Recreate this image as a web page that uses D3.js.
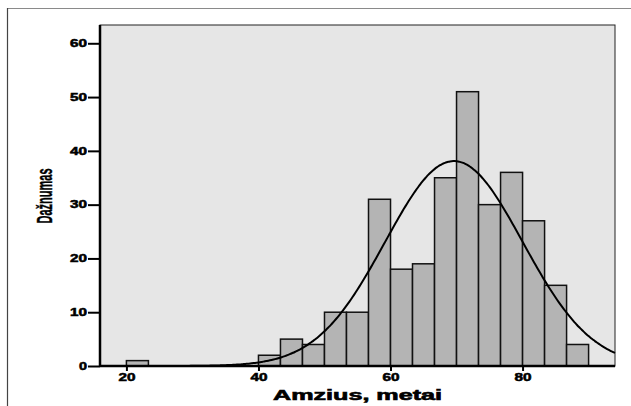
<!DOCTYPE html>
<html>
<head>
<meta charset="utf-8">
<script src="https://cdn.jsdelivr.net/npm/d3@7"></script>
<style>
  body { margin: 0; background: #fff; }
  svg { display: block; }
</style>
</head>
<body>
<div id="chart"></div>
<script>
// histogram bins (age, years) and counts
const binStarts = [20, 40, 43.333, 46.667, 50, 53.333, 56.667, 60, 63.333, 66.667, 70, 73.333, 76.667, 80, 83.333, 86.667];
const binWidth = 3.333;
const counts = [1, 2, 5, 4, 10, 10, 31, 18, 19, 35, 51, 30, 36, 27, 15, 4];
const xTicks = [20, 40, 60, 80];
const yTicks = [0, 10, 20, 30, 40, 50, 60];
// fitted normal curve
const curveMean = 69.6;
const curveSd = 10.4;

const W = 631, H = 406;
const plot = { left: 100, top: 25, right: 615, bottom: 366 };

const svg = d3.select('#chart')
    .append('svg')
    .attr('width', W)
    .attr('height', H);

// outer frame (top and left edges only)
svg.append('line')
    .attr('x1', 7).attr('y1', 8.5).attr('x2', W).attr('y2', 8.5)
    .attr('stroke', '#8a8a8a').attr('stroke-width', 1.2);
svg.append('line')
    .attr('x1', 7.5).attr('y1', 8).attr('x2', 7.5).attr('y2', H)
    .attr('stroke', '#444').attr('stroke-width', 1.2);

const x = d3.scaleLinear().domain([16, 94]).range([plot.left, plot.right]);
const y = d3.scaleLinear().domain([0, 63.4]).range([plot.bottom, plot.top]);

// plot background
svg.append('rect')
    .attr('x', plot.left).attr('y', plot.top)
    .attr('width', plot.right - plot.left)
    .attr('height', plot.bottom - plot.top)
    .attr('fill', '#e6e6e6')
    .attr('stroke', '#222')
    .attr('stroke-width', 1);

// bars
const bins = binStarts.map((s, i) => ({ x0: s, x1: s + binWidth, n: counts[i] }));
svg.append('g')
    .selectAll('rect')
    .data(bins)
    .enter()
    .append('rect')
    .attr('x', d => x(d.x0))
    .attr('y', d => y(d.n))
    .attr('width', d => x(d.x1) - x(d.x0))
    .attr('height', d => y(0) - y(d.n))
    .attr('fill', '#b4b4b4')
    .attr('stroke', '#111')
    .attr('stroke-width', 1.5);

// normal curve
const total = d3.sum(counts);
const curvePts = d3.range(16, 94.01, 0.25).map(v => {
    const z = (v - curveMean) / curveSd;
    return [v, total * binWidth / (curveSd * Math.sqrt(2 * Math.PI)) * Math.exp(-0.5 * z * z)];
});
svg.append('path')
    .datum(curvePts)
    .attr('fill', 'none')
    .attr('stroke', '#000')
    .attr('stroke-width', 2)
    .attr('d', d3.line().x(d => x(d[0])).y(d => y(d[1])).curve(d3.curveBasis));

// axes
const yAxis = svg.append('g')
    .attr('transform', `translate(${plot.left},0)`)
    .call(d3.axisLeft(y).tickValues(yTicks).tickSize(12).tickPadding(1).tickSizeOuter(0));
const xAxis = svg.append('g')
    .attr('transform', `translate(0,${plot.bottom})`)
    .call(d3.axisBottom(x).tickValues(xTicks).tickSize(5).tickPadding(3).tickSizeOuter(0));

[yAxis, xAxis].forEach(ax => {
    ax.select('.domain').attr('stroke', '#000').attr('stroke-width', 2.5);
    ax.selectAll('.tick line').attr('stroke', '#000').attr('stroke-width', 2);
    ax.selectAll('.tick text')
        .attr('fill', '#000')
        .attr('stroke', '#000')
        .attr('stroke-width', 0.5)
        .attr('font-family', 'Liberation Sans, Arial, sans-serif')
        .attr('font-weight', 'bold')
        .attr('font-size', '10px')
        .attr('textLength', d => String(d).length * 9 - 1)
        .attr('lengthAdjust', 'spacingAndGlyphs');
});
// y axis line spans full plot height
yAxis.select('.domain').attr('d', `M0,${plot.top}V${plot.bottom}`);
xAxis.select('.domain').attr('d', `M${plot.left},0H${plot.right}`);

// axis titles
svg.append('text')
    .attr('x', (plot.left + plot.right) / 2)
    .attr('y', 400)
    .attr('text-anchor', 'middle')
    .attr('stroke', '#000')
    .attr('stroke-width', 0.6)
    .attr('font-family', 'Liberation Sans, Arial, sans-serif')
    .attr('font-weight', 'bold')
    .attr('font-size', '14px')
    .attr('textLength', 169)
    .attr('lengthAdjust', 'spacingAndGlyphs')
    .text('Amzius, metai');

svg.append('text')
    .attr('transform', 'translate(52,196) rotate(-90)')
    .attr('text-anchor', 'middle')
    .attr('stroke', '#000')
    .attr('stroke-width', 0.4)
    .attr('font-family', 'Liberation Sans, Arial, sans-serif')
    .attr('font-weight', 'bold')
    .attr('font-size', '22px')
    .attr('textLength', 55)
    .attr('lengthAdjust', 'spacingAndGlyphs')
    .text('Dažnumas');
</script>
</body>
</html>
